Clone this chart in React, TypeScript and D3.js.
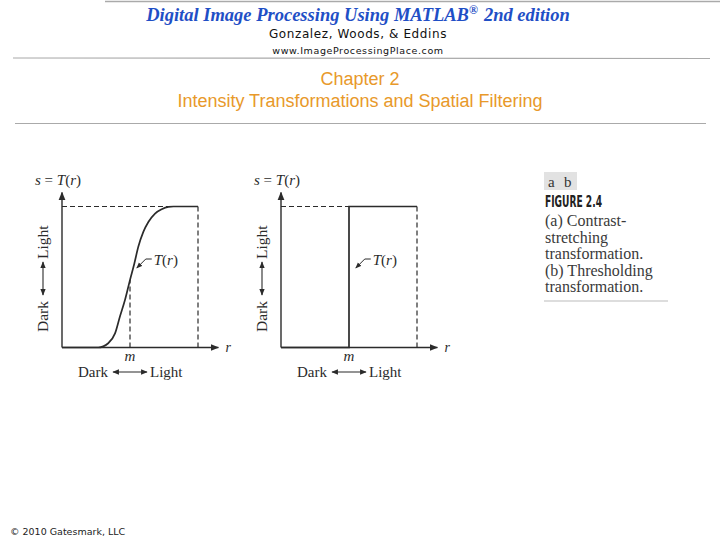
import React from "react";
import * as d3 from "d3";

// Figure 2.4 (a): contrast-stretching curve (r, s in 0..1)
const stretchR = [0, 0.267, 0.34, 0.39, 0.426, 0.463, 0.5, 0.532, 0.561, 0.598, 0.635, 0.684, 0.733, 0.782, 0.82, 1];
const stretchS = [0, 0, 0.03, 0.1, 0.22, 0.337, 0.479, 0.596, 0.714, 0.82, 0.89, 0.95, 0.98, 0.997, 1, 1];

// Figure 2.4 (b): thresholding step
const threshR = [0, 0.5, 0.5, 1];
const threshS = [0, 0, 1, 1];

const mValue = 0.5;
const mS = 0.479; // where the dashed line from m meets the curve in (a)

const captionLines = [
  "(a) Contrast-",
  "stretching",
  "transformation.",
  "(b) Thresholding",
  "transformation.",
];

const serif = "'Liberation Serif', 'DejaVu Serif', serif";
const ink = "#2b2b2b";

type PanelProps = {
  left: number;
  rs: number[];
  ss: number[];
  showMLine: boolean;
  id: string;
};

const Panel = ({ left, rs, ss, showMLine, id }: PanelProps) => {
  const x = d3.scaleLinear().domain([0, 1]).range([left, left + 136]);
  const y = d3.scaleLinear().domain([0, 1]).range([347.5, 206.5]);

  const line = d3
    .line<number>()
    .x((_, i) => x(rs[i]))
    .y((_, i) => y(ss[i]))
    .curve(showMLine ? d3.curveMonotoneX : d3.curveLinear);

  const dash = "5,3";
  const arrowX = x(1.15);
  const arrowY = y(1.1);
  const arrowId = `ah-${id}`;

  // T(r) leader
  const lx = x(0.66);
  const ly = 259;
  const leader = `M${lx},${ly} L${lx - 6},${ly} L${lx - 15},${ly + 9}`;

  return (
    <g>
      <defs>
        <marker id={arrowId} viewBox="0 0 10 10" refX="9" refY="5" markerWidth="6" markerHeight="6" orient="auto-start-reverse">
          <path d="M0,1 L10,5 L0,9 z" fill={ink} />
        </marker>
      </defs>
      {/* axes */}
      <line x1={x(0)} y1={y(0)} x2={arrowX} y2={y(0)} stroke={ink} strokeWidth={1.4} markerEnd={`url(#${arrowId})`} />
      <line x1={x(0)} y1={y(0)} x2={x(0)} y2={arrowY} stroke={ink} strokeWidth={1.4} markerEnd={`url(#${arrowId})`} />
      {/* dashed guides */}
      <line x1={x(0)} y1={y(1)} x2={x(1)} y2={y(1)} stroke={ink} strokeWidth={1.2} strokeDasharray={dash} />
      <line x1={x(1)} y1={y(1)} x2={x(1)} y2={y(0)} stroke={ink} strokeWidth={1.2} strokeDasharray={dash} />
      {showMLine && (
        <line x1={x(mValue)} y1={y(0)} x2={x(mValue)} y2={y(mS)} stroke={ink} strokeWidth={1.2} strokeDasharray={dash} />
      )}
      {/* transformation */}
      <path d={line(rs) || ""} fill="none" stroke={ink} strokeWidth={1.7} />
      {/* leader + label */}
      <path d={leader} fill="none" stroke={ink} strokeWidth={1} markerEnd={`url(#${arrowId})`} />
      <text x={lx + 2} y={265} fontFamily={serif} fontSize={15} fill={ink}>
        <tspan fontStyle="italic">T</tspan>(<tspan fontStyle="italic">r</tspan>)
      </text>
      {/* labels */}
      <text x={x(0) - 27} y={185} fontFamily={serif} fontSize={15} fill={ink}>
        <tspan fontStyle="italic">s</tspan> = <tspan fontStyle="italic">T</tspan>(<tspan fontStyle="italic">r</tspan>)
      </text>
      <text x={x(mValue)} y={361} textAnchor="middle" fontFamily={serif} fontSize={15} fontStyle="italic" fill={ink}>m</text>
      <text x={arrowX + 7} y={352} fontFamily={serif} fontSize={14} fontStyle="italic" fill={ink}>r</text>
      {/* horizontal Dark <-> Light */}
      <g fontFamily={serif} fontSize={15} fill={ink}>
        <text x={x(0) + 16} y={377}>Dark</text>
        <line x1={x(0) + 51} y1={372} x2={x(0) + 85} y2={372} stroke={ink} strokeWidth={1.1} markerStart={`url(#${arrowId})`} markerEnd={`url(#${arrowId})`} />
        <text x={x(0) + 88} y={377}>Light</text>
      </g>
      {/* vertical Dark <-> Light */}
      <g transform={`translate(${x(0) - 14},${y(0.5)}) rotate(-90)`} fontFamily={serif} fontSize={15.5} fill={ink}>
        <text x={-55} y={0}>Dark</text>
        <line x1={-18} y1={-5} x2={15} y2={-5} stroke={ink} strokeWidth={1.1} markerStart={`url(#${arrowId})`} markerEnd={`url(#${arrowId})`} />
        <text x={18} y={0}>Light</text>
      </g>
    </g>
  );
};

const App = () => {
  return (
    <svg width={720} height={540} style={{ position: "absolute", left: 0, top: 0, background: "#fff" }}>
      {/* header */}
      <line x1={105} y1={1.5} x2={720} y2={1.5} stroke="#aaa" strokeWidth={1.5} />
      <text x={358} y={21} textAnchor="middle" fontFamily={serif} fontWeight="bold" fontStyle="italic" fontSize={18.5} fill="#1f4fc6">
        Digital Image Processing Using MATLAB
        <tspan fontSize={12} dy={-7}>®</tspan>
        <tspan dy={7} dx={6}>2nd edition</tspan>
      </text>
      <text x={358} y={38} textAnchor="middle" fontFamily="'DejaVu Sans', sans-serif" fontSize={12} fill="#111" letterSpacing={0.6}>
        Gonzalez, Woods, &amp; Eddins
      </text>
      <text x={358} y={54} textAnchor="middle" fontFamily="'DejaVu Sans', sans-serif" fontSize={9.5} fill="#111" letterSpacing={0.6}>
        www.ImageProcessingPlace.com
      </text>
      <line x1={13} y1={58} x2={710} y2={58.5} stroke="#aaa" strokeWidth={1.2} />
      <g fontFamily="'Liberation Sans', Arial, sans-serif" fontSize={18} fill="#e8992a" textAnchor="middle">
        <text x={360} y={85}>Chapter 2</text>
        <text x={360} y={107}>Intensity Transformations and Spatial Filtering</text>
      </g>
      <line x1={15} y1={123.5} x2={706} y2={123.5} stroke="#aaa" strokeWidth={1.2} />

      <Panel left={62} rs={stretchR} ss={stretchS} showMLine={true} id="a" />
      <Panel left={281} rs={threshR} ss={threshS} showMLine={false} id="b" />

      {/* caption block */}
      <rect x={544} y={172} width={33} height={18} fill="#e2e2e2" />
      <text y={187} fontFamily={serif} fontSize={15} fill="#333">
        <tspan x={548}>a</tspan>
        <tspan x={564}>b</tspan>
      </text>
      <text x={545} y={207} fontFamily="'DejaVu Sans Condensed', 'DejaVu Sans', sans-serif" fontWeight="bold" fontSize={15} fill="#222" textLength={57} lengthAdjust="spacingAndGlyphs">
        FIGURE 2.4
      </text>
      {captionLines.map((t, i) => (
        <text key={i} x={545} y={226 + i * 16.5} fontFamily={serif} fontSize={16} fill="#3a3a3a">
          {t}
        </text>
      ))}
      <line x1={544} y1={301} x2={668} y2={301} stroke="#ddd" strokeWidth={2} />

      <text x={10} y={535} fontFamily="'DejaVu Sans', sans-serif" fontSize={9.5} fill="#222">
        © 2010 Gatesmark, LLC
      </text>
    </svg>
  );
};

export default App;
